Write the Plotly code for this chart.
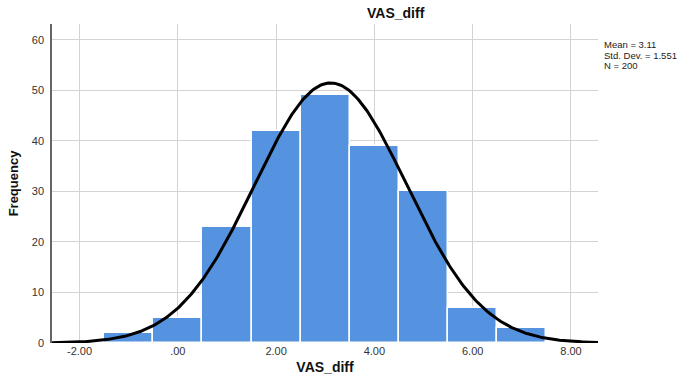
import numpy as np
import plotly.graph_objects as go

# Data
bin_centers = [-1, 0, 1, 2, 3, 4, 5, 6, 7]
frequencies = [2, 5, 23, 42, 49, 39, 30, 7, 3]
bin_width = 1.0
mean_val = 3.11
sd_val = 1.551
n_val = 200
x_tick_vals = [-2, 0, 2, 4, 6, 8]
x_tick_text = ["-2.00", ".00", "2.00", "4.00", "6.00", "8.00"]
y_tick_vals = [0, 10, 20, 30, 40, 50, 60]
stats_lines = ["Mean = 3.11", "Std. Dev. = 1.551", "N = 200"]

x_range = [-2.56, 8.55]
y_range = [0, 63.1]

# Fitted normal curve from displayed statistics
xs = np.linspace(x_range[0], x_range[1], 400)
ys = n_val * bin_width / (sd_val * np.sqrt(2 * np.pi)) * np.exp(-0.5 * ((xs - mean_val) / sd_val) ** 2)

W, H = 681, 385
ML, MR, MT, MB = 52, 83, 24, 40
plot_w = W - ML - MR
plot_h = H - MT - MB


def px_to_paper(px, py):
    return (px - ML) / plot_w, (H - MB - py) / plot_h


fig = go.Figure()
fig.add_trace(go.Bar(
    x=bin_centers, y=frequencies, width=bin_width,
    marker=dict(color="#5592E0", line=dict(color="white", width=1.5)),
    hoverinfo="skip",
))
fig.add_trace(go.Scatter(
    x=xs, y=ys, mode="lines",
    line=dict(color="black", width=3),
    hoverinfo="skip",
))

font_family = "Liberation Sans, Arial, sans-serif"
annotations = []
tx, ty = px_to_paper(396, 13)
annotations.append(dict(text="<b>VAS_diff</b>", x=tx, y=ty, xref="paper", yref="paper",
                        xanchor="center", yanchor="middle", showarrow=False,
                        font=dict(size=14, color="#111111")))
for i, line in enumerate(stats_lines):
    ax, ay = px_to_paper(603, 45 + 10.5 * i)
    annotations.append(dict(text=line, x=ax, y=ay, xref="paper", yref="paper",
                            xanchor="left", yanchor="middle", showarrow=False,
                            borderpad=0,
                            font=dict(size=9.5, color="#222222")))

fig.update_layout(
    width=W, height=H,
    margin=dict(l=ML, r=MR, t=MT, b=MB),
    paper_bgcolor="white", plot_bgcolor="white",
    showlegend=False,
    bargap=0,
    font=dict(family=font_family, color="#333333"),
    xaxis=dict(
        range=x_range, tickvals=x_tick_vals, ticktext=x_tick_text,
        showgrid=True, gridcolor="#d3d3d3", gridwidth=1,
        zeroline=False, showline=False, ticks="",
        tickfont=dict(size=11, color="#333333"),
        title=dict(text="<b>VAS_diff</b>", font=dict(size=14, color="#111111"), standoff=6),
    ),
    yaxis=dict(
        range=y_range, tickvals=y_tick_vals,
        showgrid=True, gridcolor="#d3d3d3", gridwidth=1,
        zeroline=False, showline=True, linecolor="#666666", linewidth=1.5,
        ticks="", ticklabelstandoff=4,
        tickfont=dict(size=11, color="#333333"),
        title=dict(text="<b>Frequency</b>", font=dict(size=13, color="#111111"), standoff=10),
    ),
    annotations=annotations,
)

fig.write_html("out.html")
